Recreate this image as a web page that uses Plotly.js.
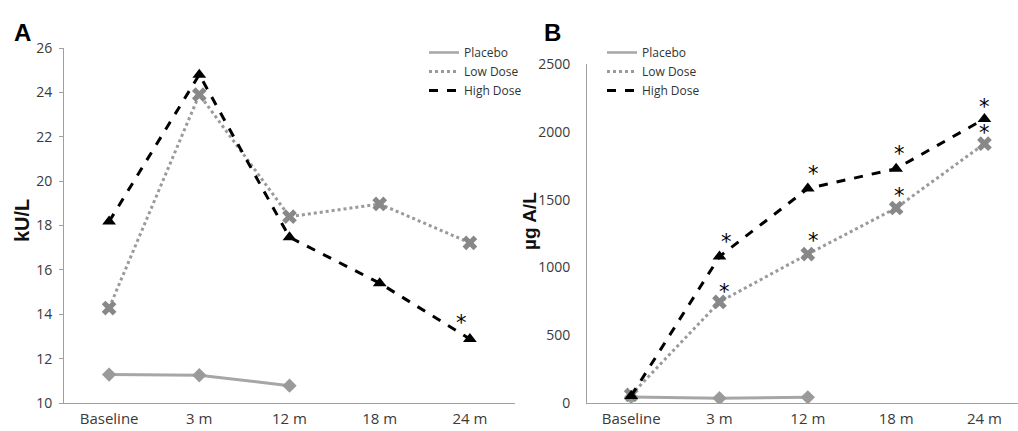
<!DOCTYPE html>
<html><head><meta charset="utf-8">
<script src="https://cdn.plot.ly/plotly-3.0.1.min.js"></script>
<style>html,body{margin:0;padding:0;background:#fff}#chart{width:1018px;height:431px}</style>
</head><body><div id="chart"></div>
<script>
const categories = ["Baseline", "3 m", "12 m", "18 m", "24 m"];
const seriesNames = ["Placebo", "Low Dose", "High Dose"];

// Panel A (kU/L)
const placeboA = [11.28, 11.25, 10.78, null, null];
const lowDoseA = [14.28, 23.9, 18.4, 18.97, 17.22];
const highDoseA = [18.18, 24.8, 17.47, 15.4, 12.88];
const starXA = [3.91];
const starYA = [13.83];

// Panel B (µg A/L)
const placeboB = [45, 35, 42, null, null];
const lowDoseB = [60, 745, 1098, 1438, 1912];
const highDoseB = [52, 1080, 1582, 1728, 2095];
const starXB = [1.08, 1.06, 2.06, 2.06, 3.04, 3.04, 4.0, 4.0];
const starYB = [1223, 855, 1724, 1231, 1872, 1562, 2218, 2027];

const yTicksA = [10, 12, 14, 16, 18, 20, 22, 24, 26];
const yTicksB = [0, 500, 1000, 1500, 2000, 2500];

const FONT = "Open Sans, Liberation Sans, Arial, sans-serif";
const styles = [
  {line: {color: "#a6a6a6", width: 3, dash: "solid"}, marker: {symbol: "diamond", size: 11, color: "#9a9a9a"}},
  {line: {color: "#9a9a9a", width: 3, dash: "dot"}, marker: {symbol: "x", size: 13, color: "#888888"}},
  {line: {color: "#000000", width: 3, dash: "dash"}, marker: {symbol: "triangle-up", size: 12, color: "#000000"}}
];

function dataTraces(vals, xa, ya) {
  return vals.map((v, i) => ({
    type: "scatter", mode: "lines+markers", x: categories, y: v,
    xaxis: xa, yaxis: ya, name: seriesNames[i], showlegend: false,
    line: styles[i].line, marker: styles[i].marker, connectgaps: false, hoverinfo: "skip"
  }));
}
function legendTraces(xa, ya, lg) {
  return seriesNames.map((n, i) => ({
    type: "scatter", mode: "lines", x: [null], y: [null], xaxis: xa, yaxis: ya,
    name: n, legend: lg, showlegend: true,
    line: {color: styles[i].line.color, width: styles[i].line.dash === "solid" ? 2.5 : 3, dash: styles[i].line.dash}
  }));
}

const traces = [].concat(
  dataTraces([placeboA, lowDoseA, highDoseA], "x", "y"),
  dataTraces([placeboB, lowDoseB, highDoseB], "x2", "y2"),
  legendTraces("x", "y", "legend"),
  legendTraces("x2", "y2", "legend2")
);

const W = 1018, H = 431;
const star = (x, y, xr, yr) => ({x: x, y: y, xref: xr, yref: yr, text: "*", showarrow: false,
  font: {family: "DejaVu Sans", size: 21, color: "#000"}, yshift: -5});
const annotations = [];
starXA.forEach((x, i) => annotations.push(star(x, starYA[i], "x", "y")));
starXB.forEach((x, i) => annotations.push(star(x, starYB[i], "x2", "y2")));
annotations.push(
  {text: "<b>A</b>", x: 12 / W, y: 1 - 17 / H, xref: "paper", yref: "paper", xanchor: "left", yanchor: "top",
   showarrow: false, font: {family: "Liberation Sans, Arial", size: 24, color: "#000"}},
  {text: "<b>B</b>", x: 542 / W, y: 1 - 17 / H, xref: "paper", yref: "paper", xanchor: "left", yanchor: "top",
   showarrow: false, font: {family: "Liberation Sans, Arial", size: 24, color: "#000"}},
  {text: "<b>kU/L</b>", x: 22 / W, y: 1 - 221 / H, xref: "paper", yref: "paper", textangle: -90,
   xanchor: "center", yanchor: "middle",
   showarrow: false, font: {family: "Liberation Sans, Arial", size: 20, color: "#111"}},
  {text: "<b>µg A/L</b>", x: 529 / W, y: 1 - 221 / H, xref: "paper", yref: "paper", textangle: -90,
   xanchor: "center", yanchor: "middle",
   showarrow: false, font: {family: "Liberation Sans, Arial", size: 19, color: "#111"}}
);

const xTickFont = {family: FONT, size: 15, color: "#3a3a3a"};
const yTickFont = {family: FONT, size: 14, color: "#3a3a3a"};
const xBase = {type: "category", showgrid: false, zeroline: false, showline: true, linecolor: "#a0a0a0",
  linewidth: 1, ticks: "", tickfont: xTickFont, fixedrange: true, ticklabelstandoff: 2};
const yBase = {showgrid: false, zeroline: false, showline: true, linecolor: "#a0a0a0", linewidth: 1,
  tickfont: yTickFont, fixedrange: true};

const layout = {
  width: W, height: H, margin: {l: 0, r: 0, t: 0, b: 0},
  paper_bgcolor: "#fff", plot_bgcolor: "#fff", font: {family: FONT},
  xaxis: Object.assign({}, xBase, {domain: [64 / W, 515 / W], range: [-0.5, 4.5], anchor: "y"}),
  yaxis: Object.assign({}, yBase, {domain: [1 - 403 / H, 1 - 48 / H], range: [10, 26], tickvals: yTicksA,
    anchor: "x", ticks: "outside", ticklen: 4, tickcolor: "#a0a0a0", ticklabelstandoff: 4}),
  xaxis2: Object.assign({}, xBase, {domain: [587 / W, 1], range: [-0.5, 4.38], anchor: "y2"}),
  yaxis2: Object.assign({}, yBase, {domain: [1 - 403 / H, 1 - 64 / H], range: [0, 2500], tickvals: yTicksB,
    anchor: "x2", ticks: "", ticklabelstandoff: 13}),
  legend: {x: 424 / W, y: 1 - 38 / H, xanchor: "left", yanchor: "top", bgcolor: "rgba(0,0,0,0)",
    font: {family: FONT, size: 12, color: "#333"}, tracegroupgap: 0},
  legend2: {x: 602 / W, y: 1 - 38 / H, xanchor: "left", yanchor: "top", bgcolor: "rgba(0,0,0,0)",
    font: {family: FONT, size: 12, color: "#333"}, tracegroupgap: 0},
  annotations: annotations,
  showlegend: true
};

Plotly.newPlot("chart", traces, layout, {displayModeBar: false, staticPlot: true});
</script></body></html>
